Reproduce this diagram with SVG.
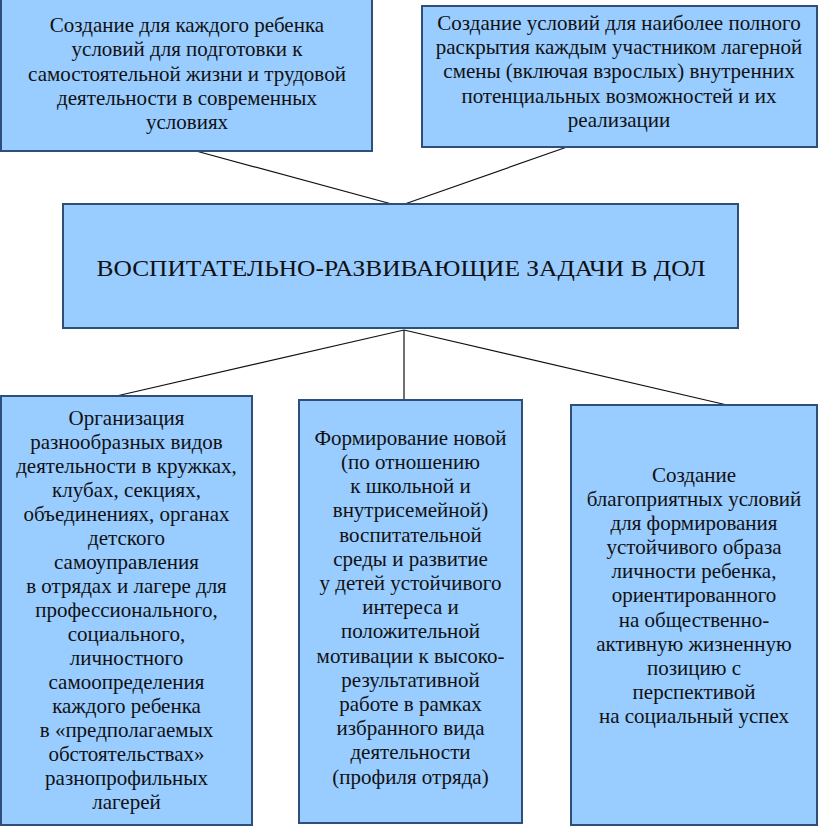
<svg xmlns="http://www.w3.org/2000/svg" width="819" height="828" viewBox="0 0 819 828">
<style>
.box{fill:#99CCFF;stroke:#2E4F7A;stroke-width:2}
.t{font-family:"Liberation Serif","Times New Roman",serif;font-size:21px;fill:#111;text-anchor:middle}
.c{stroke:#111;stroke-width:1.2;fill:none}
</style>
<rect width="819" height="828" fill="#fff"/>
<g id="connectors">
<line class="c" x1="196" y1="151" x2="399" y2="206"/>
<line class="c" x1="567" y1="147" x2="399" y2="206"/>
<line class="c" x1="404" y1="330" x2="112" y2="397"/>
<line class="c" x1="404" y1="330" x2="404" y2="400"/>
<line class="c" x1="404" y1="330" x2="740" y2="408"/>
</g>
<g id="top-left">
<rect class="box" x="1" y="-1" width="371" height="152"/>
<text class="t" x="187" y="32">Создание для каждого ребенка</text>
<text class="t" x="187" y="56">условий для подготовки к</text>
<text class="t" x="187" y="81">самостоятельной жизни и трудовой</text>
<text class="t" x="187" y="105">деятельности в современных</text>
<text class="t" x="187" y="129">условиях</text>
</g>
<g id="top-right">
<rect class="box" x="422" y="6" width="395" height="141"/>
<text class="t" x="619" y="30">Создание условий для наиболее полного</text>
<text class="t" x="619" y="54">раскрытия каждым участником лагерной</text>
<text class="t" x="619" y="78">смены (включая взрослых) внутренних</text>
<text class="t" x="619" y="103">потенциальных возможностей и их</text>
<text class="t" x="619" y="127">реализации</text>
</g>
<g id="center">
<rect class="box" x="63" y="204" width="675" height="124"/>
<text class="t" x="401" y="276" style="font-size:23px" textLength="609" lengthAdjust="spacingAndGlyphs">ВОСПИТАТЕЛЬНО-РАЗВИВАЮЩИЕ ЗАДАЧИ В ДОЛ</text>
</g>
<g id="bottom-left">
<rect class="box" x="1" y="396" width="251" height="429"/>
<text class="t" x="126.5" y="425">Организация</text>
<text class="t" x="126.5" y="449">разнообразных видов</text>
<text class="t" x="126.5" y="473">деятельности в кружках,</text>
<text class="t" x="126.5" y="497">клубах, секциях,</text>
<text class="t" x="126.5" y="521">объединениях, органах</text>
<text class="t" x="126.5" y="545">детского</text>
<text class="t" x="126.5" y="569">самоуправления</text>
<text class="t" x="126.5" y="593">в отрядах и лагере для</text>
<text class="t" x="126.5" y="617">профессионального,</text>
<text class="t" x="126.5" y="641">социального,</text>
<text class="t" x="126.5" y="665">личностного</text>
<text class="t" x="126.5" y="689">самоопределения</text>
<text class="t" x="126.5" y="713">каждого ребенка</text>
<text class="t" x="126.5" y="737">в «предполагаемых</text>
<text class="t" x="126.5" y="761">обстоятельствах»</text>
<text class="t" x="126.5" y="785">разнопрофильных</text>
<text class="t" x="126.5" y="809">лагерей</text>
</g>
<g id="bottom-middle">
<rect class="box" x="299" y="400" width="223" height="423"/>
<text class="t" x="410.5" y="445">Формирование новой</text>
<text class="t" x="410.5" y="469">(по отношению</text>
<text class="t" x="410.5" y="493">к школьной и</text>
<text class="t" x="410.5" y="517">внутрисемейной)</text>
<text class="t" x="410.5" y="542">воспитательной</text>
<text class="t" x="410.5" y="566">среды и развитие</text>
<text class="t" x="410.5" y="590">у детей устойчивого</text>
<text class="t" x="410.5" y="614">интереса и</text>
<text class="t" x="410.5" y="638">положительной</text>
<text class="t" x="410.5" y="663">мотивации к высоко-</text>
<text class="t" x="410.5" y="687">результативной</text>
<text class="t" x="410.5" y="711">работе в рамках</text>
<text class="t" x="410.5" y="735">избранного вида</text>
<text class="t" x="410.5" y="759">деятельности</text>
<text class="t" x="410.5" y="784">(профиля отряда)</text>
</g>
<g id="bottom-right">
<rect class="box" x="571" y="405" width="246" height="420"/>
<text class="t" x="694" y="482">Создание</text>
<text class="t" x="694" y="506">благоприятных условий</text>
<text class="t" x="694" y="530">для формирования</text>
<text class="t" x="694" y="554">устойчивого образа</text>
<text class="t" x="694" y="578">личности ребенка,</text>
<text class="t" x="694" y="602">ориентированного</text>
<text class="t" x="694" y="627">на общественно-</text>
<text class="t" x="694" y="651">активную жизненную</text>
<text class="t" x="694" y="675">позицию с</text>
<text class="t" x="694" y="699">перспективой</text>
<text class="t" x="694" y="723">на социальный успех</text>
</g>
</svg>
